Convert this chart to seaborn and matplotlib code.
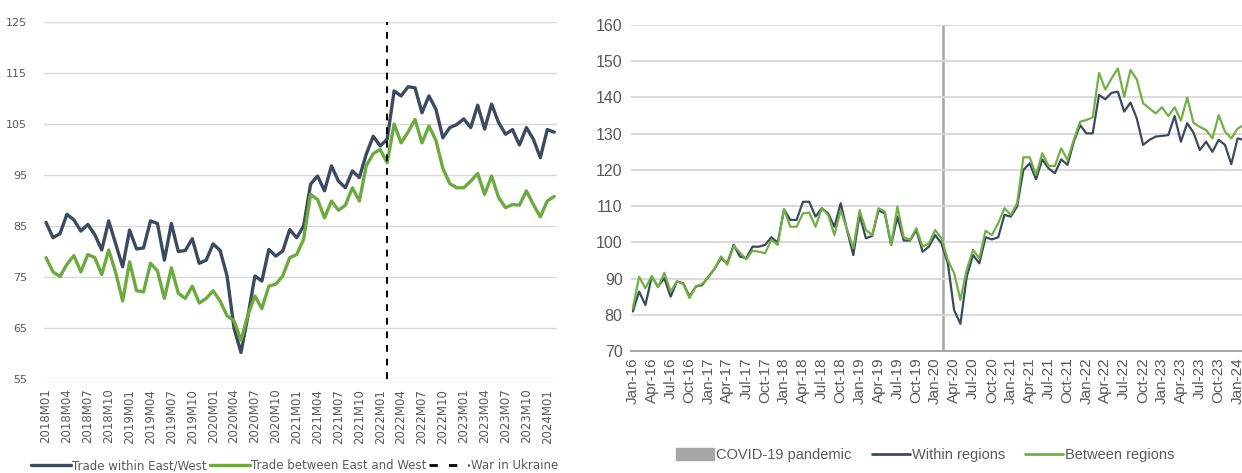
import pandas as pd
import seaborn as sns
import matplotlib.pyplot as plt
from matplotlib.lines import Line2D
from matplotlib.patches import Patch

# left panel: monthly index, 2018M01 .. 2024M02
left_months = [f"{y}M{m:02d}" for y in range(2018, 2025) for m in range(1, 13)][:74]
left_within = [85.7, 82.7, 83.5, 87.3, 86.2, 84.0, 85.3, 83.3, 80.3, 86.0,
               81.5, 77.0, 84.2, 80.5, 80.7, 86.0, 85.5, 78.3, 85.5, 80.0,
               80.2, 82.5, 77.7, 78.3, 81.5, 80.2, 75.2, 65.0, 60.2, 67.4,
               75.2, 74.2, 80.4, 79.1, 80.1, 84.3, 82.7, 85.0, 93.2, 94.8,
               91.9, 96.8, 93.8, 92.5, 95.8, 94.5, 99.1, 102.6, 100.7, 102.0,
               111.5, 110.5, 112.3, 112.1, 107.2, 110.5, 107.9, 102.3, 104.3, 104.9,
               106.0, 104.3, 108.7, 104.0, 108.9, 105.3, 103.0, 103.9, 100.9, 104.3,
               102.0, 98.4, 103.9, 103.4]
left_between = [78.8, 76.0, 75.1, 77.5, 79.2, 76.0, 79.4, 78.8, 75.5, 80.3,
                75.9, 70.3, 78.0, 72.3, 72.1, 77.7, 76.2, 70.8, 76.8, 71.8,
                70.8, 73.2, 69.9, 70.8, 72.3, 70.3, 67.4, 66.4, 62.6, 67.6,
                71.3, 68.8, 73.2, 73.6, 75.2, 78.8, 79.4, 82.4, 91.2, 90.2,
                86.6, 89.9, 88.1, 89.1, 92.5, 89.9, 96.8, 99.2, 100.0, 97.4,
                105.0, 101.3, 103.4, 105.9, 101.3, 104.6, 101.8, 96.3, 93.3, 92.5,
                92.5, 93.8, 95.3, 91.2, 94.8, 90.6, 88.6, 89.2, 89.1, 91.9,
                89.2, 86.8, 89.9, 90.8]
war_month = "2022M02"

# right panel: monthly index, Jan-16 .. Feb-24
right_months = [d.strftime("%b-%y") for d in pd.date_range("2016-01-01", periods=98, freq="MS")]
right_within = [80.9, 86.4, 82.7, 90.5, 87.8, 90.1, 85.0, 89.2, 88.7, 85.0,
                87.8, 88.2, 90.5, 92.8, 95.6, 94.2, 99.3, 96.1, 95.6, 98.8,
                98.8, 99.3, 101.4, 99.9, 109.1, 106.2, 106.2, 111.2, 111.2, 107.1,
                109.4, 108.0, 104.3, 110.8, 103.4, 96.5, 107.6, 101.1, 101.8, 108.9,
                108.0, 99.3, 107.1, 100.5, 100.5, 103.4, 97.4, 98.8, 102.0, 99.7,
                94.2, 81.3, 77.5, 90.5, 96.5, 94.2, 101.4, 100.8, 101.4, 107.6,
                107.1, 109.9, 120.0, 121.8, 117.4, 122.9, 120.4, 119.1, 122.9, 121.4,
                127.8, 132.4, 130.1, 130.1, 140.7, 139.5, 141.3, 141.6, 136.1, 138.6,
                134.2, 126.9, 128.3, 129.2, 129.4, 129.6, 134.9, 127.8, 132.9, 130.3,
                125.5, 127.8, 125.0, 128.3, 126.9, 121.6, 128.7, 128.3]
right_between = [81.8, 90.5, 87.3, 90.7, 87.6, 91.6, 86.4, 89.2, 88.5, 84.6,
                 87.8, 88.5, 90.3, 92.8, 96.1, 93.8, 99.0, 97.2, 95.3, 97.7,
                 97.4, 97.0, 100.7, 99.3, 109.1, 104.3, 104.3, 108.0, 108.2, 104.3,
                 109.4, 107.6, 102.0, 108.9, 103.6, 98.4, 108.9, 103.4, 102.0, 109.4,
                 108.5, 99.3, 109.9, 101.4, 100.7, 103.9, 98.8, 99.7, 103.4, 101.1,
                 95.1, 91.5, 84.1, 92.4, 97.9, 95.6, 103.2, 102.0, 105.3, 109.4,
                 107.6, 110.8, 123.5, 123.5, 118.6, 124.6, 121.1, 121.1, 126.0, 122.7,
                 128.3, 133.3, 133.8, 134.5, 146.8, 142.2, 145.3, 148.0, 140.2, 147.6,
                 145.0, 138.4, 137.0, 135.6, 137.3, 134.9, 137.3, 133.6, 140.0, 133.0,
                 131.9, 131.0, 128.7, 135.1, 130.6, 128.7, 131.4, 132.4]
covid_month = "Feb-20"

DARK = "#3b4a5e"
GREEN_L = "#6caa3e"
GREEN_R = "#72b043"
GREY = "#595959"
NARROW = ["DejaVu Sans Condensed", "Liberation Sans", "DejaVu Sans"]

sns.set_theme(style="white")
plt.rcParams['font.family'] = ['DejaVu Sans']

fig = plt.figure(figsize=(12.42, 4.73), dpi=100)
axL = fig.add_axes([0.0354, 0.1987, 0.4131, 0.7548])
axR = fig.add_axes([0.5080, 0.2580, 0.4920, 0.6890])

###
leftDf = pd.DataFrame({
    "x": list(range(len(left_months))) * 2,
    "value": left_within + left_between,
    "series": ["Trade within East/West"] * len(left_within) + ["Trade between East and West"] * len(left_between),
})
sns.lineplot(data=leftDf, x="x", y="value", hue="series", palette=[DARK, GREEN_L],
             linewidth=2.4, legend=False, ax=axL)
axL.axvline(left_months.index(war_month), color="black", lw=1.4, ls=(0, (3.5, 3.5)))
axL.set_ylim(55, 125)
axL.set_yticks(range(55, 126, 10))
axL.set_xlim(-0.3, 73.4)
axL.set_xticks(range(0, len(left_months), 3))
axL.set_xticklabels(left_months[::3], rotation=90)
axL.grid(axis="y", color="#d9d9d9", lw=1)
for s in axL.spines.values():
    s.set_visible(False)
axL.tick_params(axis="x", length=0, labelsize=8.5, labelcolor=GREY, pad=7)
axL.tick_params(axis="y", length=0, labelsize=8, labelcolor=GREY, pad=12)
axL.set_xlabel("")
axL.set_ylabel("")
leftHandles = [Line2D([], [], color=DARK, lw=2.4),
               Line2D([], [], color=GREEN_L, lw=2.4),
               Line2D([], [], color="black", lw=2, ls=(0, (3, 4)))]
fig.legend(leftHandles, ["Trade within East/West", "Trade between East and West", "War in Ukraine"],
           loc="center", bbox_to_anchor=(0.237, 0.015), ncol=3, frameon=False,
           fontsize=8.5, handlelength=3.4, handletextpad=0.1, columnspacing=0.25,
           labelcolor=GREY)

###
rightDf = pd.DataFrame({
    "x": list(range(len(right_months))) * 2,
    "value": right_within + right_between,
    "series": ["Within regions"] * len(right_within) + ["Between regions"] * len(right_between),
})
sns.lineplot(data=rightDf, x="x", y="value", hue="series", palette=[DARK, GREEN_R],
             linewidth=1.6, legend=False, ax=axR)
axR.axvline(right_months.index(covid_month) + 0.2, color="#a6a6a6", lw=1.8, zorder=0.5)
axR.set_ylim(70, 160)
axR.set_yticks(range(70, 161, 10))
axR.set_xlim(-0.3, 96.7)
axR.set_xticks(range(0, len(right_months), 3))
axR.set_xticklabels(right_months[::3], rotation=90, fontfamily=["Liberation Sans", "DejaVu Sans"])
axR.grid(axis="y", color="#d9d9d9", lw=1.4)
for name, s in axR.spines.items():
    s.set_visible(name == "bottom")
axR.spines["bottom"].set_color("#a6a6a6")
axR.spines["bottom"].set_linewidth(1.4)
axR.tick_params(axis="x", direction="inout", length=5, width=1, color="#a6a6a6",
                labelsize=11, labelcolor=GREY, pad=2)
axR.tick_params(axis="y", length=0, labelsize=11.5, labelcolor=GREY, pad=6)
for t in axR.get_yticklabels():
    t.set_fontfamily(NARROW)
axR.set_xlabel("")
axR.set_ylabel("")
rightHandles = [Patch(color="#a6a6a6"),
                Line2D([], [], color=DARK, lw=2),
                Line2D([], [], color=GREEN_R, lw=2)]
fig.legend(rightHandles, ["COVID-19 pandemic", "Within regions", "Between regions"],
           loc="center", bbox_to_anchor=(0.745, 0.038), ncol=3, frameon=False,
           prop={"family": NARROW, "size": 10.5},
           handlelength=2.6, handleheight=0.9, handletextpad=0.15, columnspacing=1.4,
           labelcolor=GREY)

fig.savefig("out.png", dpi=100)
